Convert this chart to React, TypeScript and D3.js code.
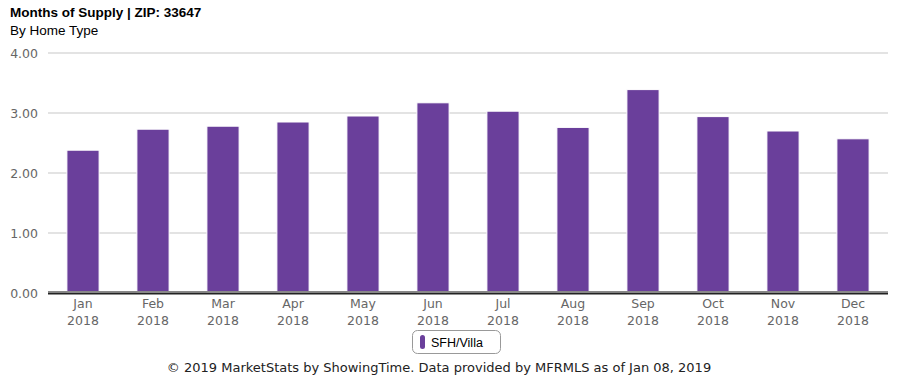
import React from "react";
import * as d3 from "d3";

const months = ["Jan", "Feb", "Mar", "Apr", "May", "Jun", "Jul", "Aug", "Sep", "Oct", "Nov", "Dec"];
const years = ["2018", "2018", "2018", "2018", "2018", "2018", "2018", "2018", "2018", "2018", "2018", "2018"];
const values = [2.38, 2.73, 2.78, 2.85, 2.95, 3.17, 3.03, 2.76, 3.39, 2.94, 2.70, 2.57];
const yTicks = [0, 1, 2, 3, 4];
const seriesName = "SFH/Villa";

export default function App() {
  const W = 900, H = 378;
  const left = 48, right = 888, top = 53, bottom = 293;
  const x = d3.scaleBand<string>().domain(months).range([left, right]).paddingInner(0.54).paddingOuter(0.27);
  const y = d3.scaleLinear().domain([0, 4]).range([bottom, top]);
  const purple = "#6a3f9b";
  const sans = "'DejaVu Sans', sans-serif";
  const arial = "'Liberation Sans', Arial, sans-serif";
  return (
    <svg width={W} height={H} style={{ position: "absolute", left: 0, top: 0 }}>
      <rect width={W} height={H} fill="#fff" />
      <text x={10} y={17} fontFamily={arial} fontWeight="bold" fontSize={13.5} fill="#000">Months of Supply | ZIP: 33647</text>
      <text x={10} y={35} fontFamily={arial} fontSize={13.5} fill="#000">By Home Type</text>
      {yTicks.map((t) => (
        <g key={t}>
          <line x1={left} x2={right} y1={y(t)} y2={y(t)} stroke="#c8c8c8" strokeWidth={1.2} />
          <text x={38} y={y(t) + 4.5} textAnchor="end" fontFamily={sans} fontSize={12.5} fill="#666">{t.toFixed(2)}</text>
        </g>
      ))}
      {values.map((v, i) => (
        <rect key={i} x={x(months[i])} y={y(v)} width={x.bandwidth()} height={y(0) - y(v) - 1}
          fill={purple} stroke="#fff" strokeWidth={1} />
      ))}
      <line x1={left} x2={right} y1={bottom - 1.5} y2={bottom - 1.5} stroke="#888" strokeWidth={1} />
      <line x1={left} x2={right} y1={bottom + 0.5} y2={bottom + 0.5} stroke="#222" strokeWidth={2} />
      {months.map((m, i) => {
        const cx = (x(m) as number) + x.bandwidth() / 2;
        return (
          <g key={m}>
            <text x={cx} y={308} textAnchor="middle" fontFamily={sans} fontSize={12.5} fill="#666">{m}</text>
            <text x={cx} y={325} textAnchor="middle" fontFamily={sans} fontSize={12.5} fill="#666">{years[i]}</text>
          </g>
        );
      })}
      <rect x={412.5} y={330.5} width={88} height={23} rx={5} fill="#fff" stroke="#999" strokeWidth={1} />
      <rect x={420} y={335} width={5} height={14} rx={2.5} fill={purple} />
      <text x={431} y={346.5} fontFamily={arial} fontSize={12.5} fill="#000">{seriesName}</text>
      <text x={439} y={372} textAnchor="middle" fontFamily={sans} fontSize={13} fill="#222">© 2019 MarketStats by ShowingTime. Data provided by MFRMLS as of Jan 08, 2019</text>
    </svg>
  );
}
